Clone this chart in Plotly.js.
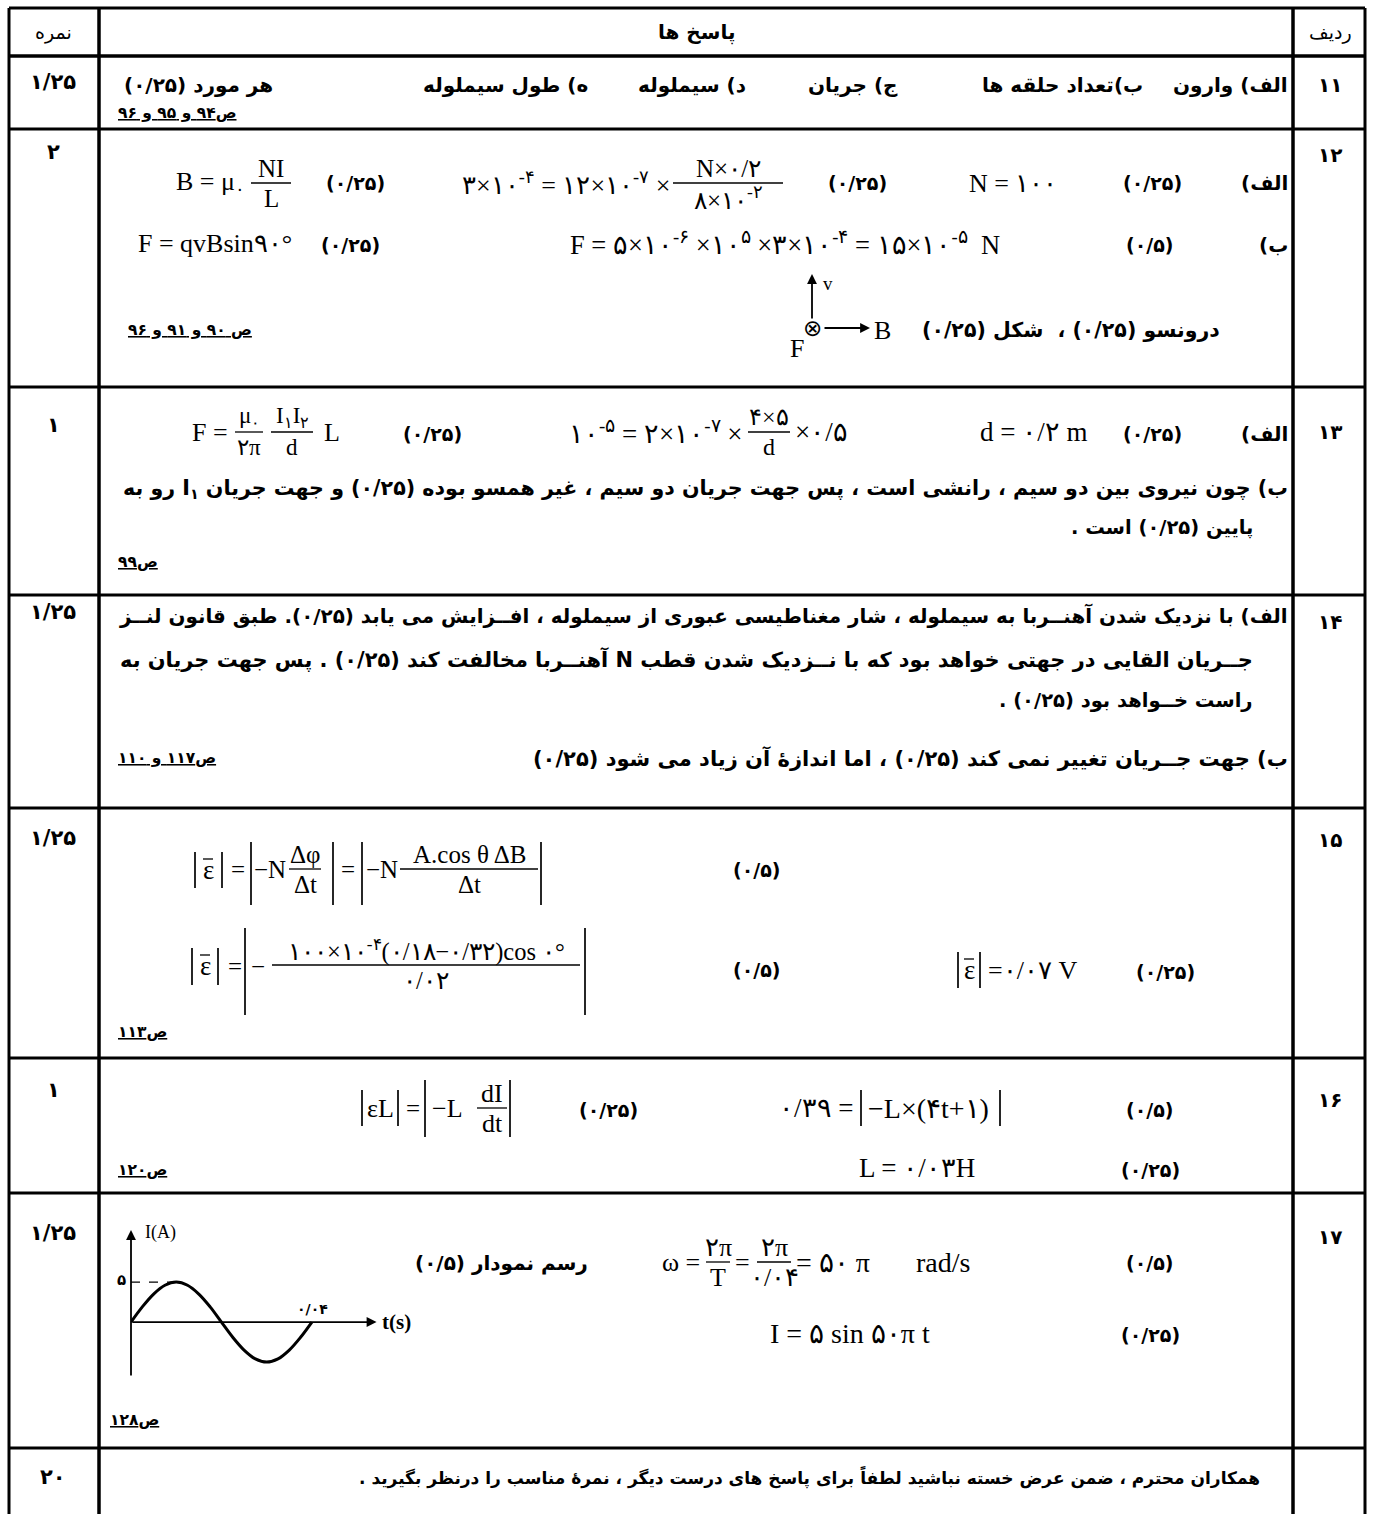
<!DOCTYPE html>
<html>
<head>
<meta charset="utf-8">
<script src="https://cdn.plot.ly/plotly-3.0.1.min.js"></script>
<style>
  html, body { margin: 0; padding: 0; background: #fff; }
  #sheet { width: 1373px; height: 1514px; }
</style>
</head>
<body>
<div id="sheet"></div>
<script>
// answer key sheet, physics 3 (questions 11-17)

const W = 1373;
const H = 1514;
const FA = "DejaVu Sans";
const SERIF = "Liberation Serif";
const RLE = "\u202B", PDF = "\u202C";

// ---- table content ----
const headerLabels = ["ردیف", "پاسخ ها", "نمره"];
const rowNumbers = ["۱۱", "۱۲", "۱۳", "۱۴", "۱۵", "۱۶", "۱۷", ""];
const rowScores = ["۱/۲۵", "۲", "۱", "۱/۲۵", "۱/۲۵", "۱", "۱/۲۵", "۲۰"];
const pageRefs = ["ص۹۴ و ۹۵ و ۹۶", "ص ۹۰ و ۹۱ و ۹۶", "ص۹۹", "ص۱۱۷ و ۱۱۰", "ص۱۱۳", "ص۱۲۰", "ص۱۲۸"];
const q11Answers = ["الف) وارون", "ب)تعداد حلقه ها", "ج) جریان", "د) سیملوله", "ه) طول سیملوله", "هر مورد (۰/۲۵)"];
const q13Lines = [
  "ب) چون نیروی بین دو سیم ، رانشی است ، پس جهت جریان دو سیم ، غیر همسو بوده (۰/۲۵) و جهت جریان I<sub>۱</sub> رو به",
  "پایین (۰/۲۵) است .",
];
const q14Lines = [
  "الف) با نزدیک شدن آهنــربا به سیملوله ، شار مغناطیسی عبوری از سیملوله ، افــزایش می یابد (۰/۲۵). طبق قانون لنــز",
  "جــریان القایی در جهتی خواهد بود که با نــزدیک شدن قطب N آهنــربا مخالفت کند (۰/۲۵) . پس جهت جریان به",
  "راست خــواهد بود (۰/۲۵) .",
  "ب) جهت جــریان تغییر نمی کند (۰/۲۵) ، اما اندازهٔ آن زیاد می شود (۰/۲۵)",
];
const closingNote = "همکاران محترم ، ضمن عرض خسته نباشید لطفاً برای پاسخ های درست دیگر ، نمرهٔ مناسب را درنظر بگیرید .";
const markQ = "(۰/۲۵)";
const markH = "(۰/۵)";

// sketch of question 17 (t in s, I in A)
const sineT = [0, 0.0025, 0.005, 0.0075, 0.01, 0.0125, 0.015, 0.0175, 0.02, 0.0225, 0.025, 0.0275, 0.03, 0.0325, 0.035, 0.0375, 0.04];
const sineI = [0, 1.9, 3.5, 4.6, 5, 4.6, 3.5, 1.9, 0, -1.9, -3.5, -4.6, -5, -4.6, -3.5, -1.9, 0];

// ---- grid (pixels) ----
const rowLines = [8, 56, 129, 387, 595, 808, 1058, 1193, 1448];
const colLines = [9, 99, 1293, 1365];
const rowLabelY = [32, 85, 155, 432, 622, 840, 1100, 1237, 1477];
const scoreY = [32, 82, 152, 425, 612, 838, 1090, 1233, 1477];
const refY = [113, 330, 562, 758, 1032, 1170, 1420];

const annotations = [];
const shapes = [];

function put(x, y, text, o = {}) {
  const fam = o.family || FA;
  annotations.push({
    xref: "x", yref: "y", x, y, text,
    showarrow: false,
    xanchor: o.anchor || "center",
    yanchor: "middle",
    font: { family: fam, size: o.size || 19, color: "#000", weight: o.weight || (fam === SERIF ? "normal" : "bold") },
  });
}
const fa = (x, y, text, o = {}) => put(x, y, RLE + text + PDF, o);
const math = (x, y, text, o = {}) => put(x, y, text, { family: SERIF, size: 25, ...o });

function rule(x0, y0, x1, y1, width = 1.2, dash = "solid") {
  shapes.push({ type: "line", xref: "x", yref: "y", x0, y0, x1, y1, line: { color: "#000", width, dash } });
}
function frac(x, y, num, den, w, size = 25) {
  math(x, y - 14, num, { size });
  math(x, y + 16, den, { size });
  rule(x - w / 2, y + 1, x + w / 2, y + 1, 1.3);
}
function absBar(x, y0, y1) {
  rule(x, y0, x, y1, 1.7);
}
function epsBar(x, y) {
  // epsilon with a bar on top
  math(x, y, "ε", { size: 27 });
  rule(x - 5, y - 11, x + 5, y - 11, 1.3);
}
function arrow(x0, y0, x1, y1, xr = "x", yr = "y") {
  annotations.push({
    xref: xr, yref: yr, axref: xr, ayref: yr,
    x: x1, y: y1, ax: x0, ay: y0, text: "",
    showarrow: true, arrowhead: 2, arrowsize: 1.1, arrowwidth: 1.8, arrowcolor: "#000",
  });
}

// ---- table frame ----
rowLines.forEach((y, i) => rule(colLines[0], y, colLines[3], y, i === 1 ? 3.5 : 3));
colLines.forEach((x, i) => rule(x, rowLines[0], x, H, i === 1 || i === 2 ? 3.5 : 3));

// header + side columns
fa(1330, rowLabelY[0], headerLabels[0], { size: 19, weight: "normal" });
fa(696, rowLabelY[0], headerLabels[1], { size: 20 });
fa(53, scoreY[0], headerLabels[2], { size: 19, weight: "normal" });
rowNumbers.forEach((n, i) => { if (n) put(1330, rowLabelY[i + 1], n, { size: 20 }); });
rowScores.forEach((s, i) => put(53, scoreY[i + 1], s, { size: 21 }));
pageRefs.forEach((r, i) => {
  const x = i === 6 ? 108 : i === 1 ? 126 : 116;
  put(x, refY[i], '<span style="text-decoration:underline">' + RLE + r + PDF + "</span>", { anchor: "left", size: 15.5 });
});

// ---- question 11 ----
const q11Right = [1290, 1145, 900, 748, 590, 275];
q11Answers.forEach((a, i) => fa(q11Right[i], 85, a, { anchor: "right", size: 20 }));

// ---- question 12 ----
fa(1290, 183, "الف)", { anchor: "right", size: 20 });
put(1152, 183, markQ);
math(1013, 183, "N = ۱۰۰", { size: 26 });
put(857, 183, markQ);
math(672, 183, "۳×۱۰<sup>-۴</sup> = ۱۲×۱۰<sup>-۷</sup> ×", { anchor: "right", size: 26 });
frac(728, 182, "N×۰/۲", "۸×۱۰<sup>-۲</sup>", 110);
put(355, 183, markQ);
math(247, 183, "B = μ<sub>۰</sub>", { anchor: "right", size: 26 });
frac(271, 182, "NI", "L", 40);

fa(1290, 245, "ب)", { anchor: "right", size: 20 });
put(1150, 245, markH);
math(785, 243, "F = ۵×۱۰<sup>-۶</sup> ×۱۰<sup>۵</sup> ×۳×۱۰<sup>-۴</sup> = ۱۵×۱۰<sup>-۵</sup>  N", { size: 26.5 });
put(350, 245, markQ);
math(215, 243, "F = qvBsin۹۰°", { size: 26 });

arrow(812, 320, 812, 274);
math(828, 283, "v", { size: 19 });
put(812, 328, "⊗", { size: 23, weight: "normal" });
arrow(823, 328, 870, 328);
math(882, 330, "B", { size: 26 });
math(797, 348, "F", { size: 26 });
fa(1222, 330, "درونسو " + markQ + " ،  شکل " + markQ, { anchor: "right", size: 20.5 });

// ---- question 13 ----
fa(1290, 434, "الف)", { anchor: "right", size: 20 });
put(1152, 434, markQ);
math(1033, 432, "d = ۰/۲ m", { size: 27 });
math(745, 432, "۱۰<sup>-۵</sup> = ۲×۱۰<sup>-۷</sup> ×", { anchor: "right", size: 27 });
frac(769, 431, "۴×۵", "d", 42, 24);
math(793, 432, "×۰/۵", { anchor: "left", size: 27 });
put(432, 434, markQ);
math(230, 432, "F =", { anchor: "right", size: 26 });
frac(249, 431, "μ<sub>۰</sub>", "۲π", 28, 23);
frac(292, 431, "I<sub>۱</sub>I<sub>۲</sub>", "d", 42, 23);
math(322, 432, "L", { anchor: "left", size: 26 });

fa(1290, 489, q13Lines[0], { anchor: "right", size: 20.6 });
fa(1255, 527, q13Lines[1], { anchor: "right", size: 19.5 });

// ---- question 14 ----
fa(1290, 615, q14Lines[0], { anchor: "right", size: 19.9 });
fa(1255, 659, q14Lines[1], { anchor: "right", size: 20.9 });
fa(1255, 700, q14Lines[2], { anchor: "right", size: 19.5 });
fa(1290, 758, q14Lines[3], { anchor: "right", size: 21 });

// ---- question 15 ----
absBar(195, 852, 888); epsBar(208, 870); absBar(222, 852, 888);
math(238, 869, "=");
absBar(251, 842, 905);
math(270, 869, "−N");
frac(305, 868, "Δφ", "Δt", 32);
absBar(333, 842, 905);
math(348, 869, "=");
absBar(362, 842, 905);
math(382, 869, "−N");
frac(469, 868, "A.cos θ ΔB", "Δt", 138);
absBar(541, 842, 905);
put(757, 870, markH);

absBar(192, 948, 985); epsBar(205, 966); absBar(218, 948, 985);
math(235, 966, "=");
absBar(245, 928, 1015);
math(258, 966, "−");
frac(426, 964, "۱۰۰×۱۰<sup>-۴</sup>(۰/۱۸−۰/۳۲)cos ۰°", "۰/۰۲", 308, 24.5);
absBar(585, 928, 1015);
put(757, 970, markH);
absBar(958, 952, 988); epsBar(969, 970); absBar(980, 952, 988);
math(986, 970, "=۰/۰۷ V", { anchor: "left", size: 26 });
put(1165, 972, markQ);

// ---- question 16 ----
absBar(362, 1090, 1126);
math(380, 1108, "εL", { size: 26 });
absBar(398, 1090, 1126);
math(413, 1108, "=");
absBar(425, 1080, 1137);
math(447, 1108, "−L", { size: 26 });
frac(492, 1107, "dI", "dt", 30, 26);
absBar(510, 1080, 1137);
put(608, 1110, markQ);
math(855, 1108, "۰/۳۹ =", { anchor: "right", size: 27 });
absBar(861, 1090, 1126);
math(866, 1108, "−L×(۴t+۱)", { anchor: "left", size: 28 });
absBar(1000, 1090, 1126);
put(1150, 1110, markH);
math(917, 1168, "L = ۰/۰۳H", { size: 27 });
put(1150, 1170, markQ);

// ---- question 17 ----
fa(590, 1263, "رسم نمودار " + markH, { anchor: "right", size: 20 });
math(702, 1262, "ω =", { anchor: "right", size: 26 });
frac(718, 1261, "۲π", "T", 24, 26);
math(742, 1262, "=", { size: 26 });
frac(774, 1261, "۲π", "۰/۰۴", 34, 26);
math(794, 1262, "= ۵۰ π", { anchor: "left", size: 28 });
math(943, 1262, "rad/s", { size: 28 });
put(1150, 1263, markH);
math(850, 1333, "I = ۵ sin ۵۰π t", { size: 28 });
put(1150, 1335, markQ);

// sketch axes and labels
arrow(0, -6.87, 0, 11.5, "x2", "y2");
arrow(0, 0, 0.0543, 0, "x2", "y2");
shapes.push({ type: "line", xref: "x2", yref: "y2", x0: 0, y0: 5, x1: 0.0095, y1: 5, line: { color: "#000", width: 1.3, dash: "dash" } });
put(121, 1280, "۵", { size: 15 });
math(143, 1232, "I(A)", { anchor: "left", size: 18 });
put(312, 1309, "۰/۰۴", { size: 14 });
math(380, 1322, "<b>t(s)</b>", { anchor: "left", size: 21 });

// ---- closing row ----
fa(1262, 1477, closingNote, { anchor: "right", size: 17 });

const traces = [
  { x: [], y: [], type: "scatter", mode: "lines", xaxis: "x", yaxis: "y", hoverinfo: "skip" },
  {
    x: sineT, y: sineI, type: "scatter", mode: "lines",
    xaxis: "x2", yaxis: "y2",
    line: { color: "#000", width: 3, shape: "spline" },
    hoverinfo: "skip",
  },
];

const layout = {
  width: W, height: H,
  margin: { l: 0, r: 0, t: 0, b: 0 },
  paper_bgcolor: "#fff",
  plot_bgcolor: "rgba(0,0,0,0)",
  showlegend: false,
  xaxis: { range: [0, W], domain: [0, 1], visible: false, fixedrange: true },
  yaxis: { range: [H, 0], domain: [0, 1], visible: false, fixedrange: true },
  xaxis2: { range: [0, 0.0544], domain: [131 / W, 377 / W], anchor: "y2", visible: false },
  yaxis2: { range: [-6.87, 11.76], domain: [1 - 1377 / H, 1 - 1228 / H], anchor: "x2", visible: false },
  shapes,
  annotations,
};

Plotly.newPlot("sheet", traces, layout, { staticPlot: true });
</script>
</body>
</html>
